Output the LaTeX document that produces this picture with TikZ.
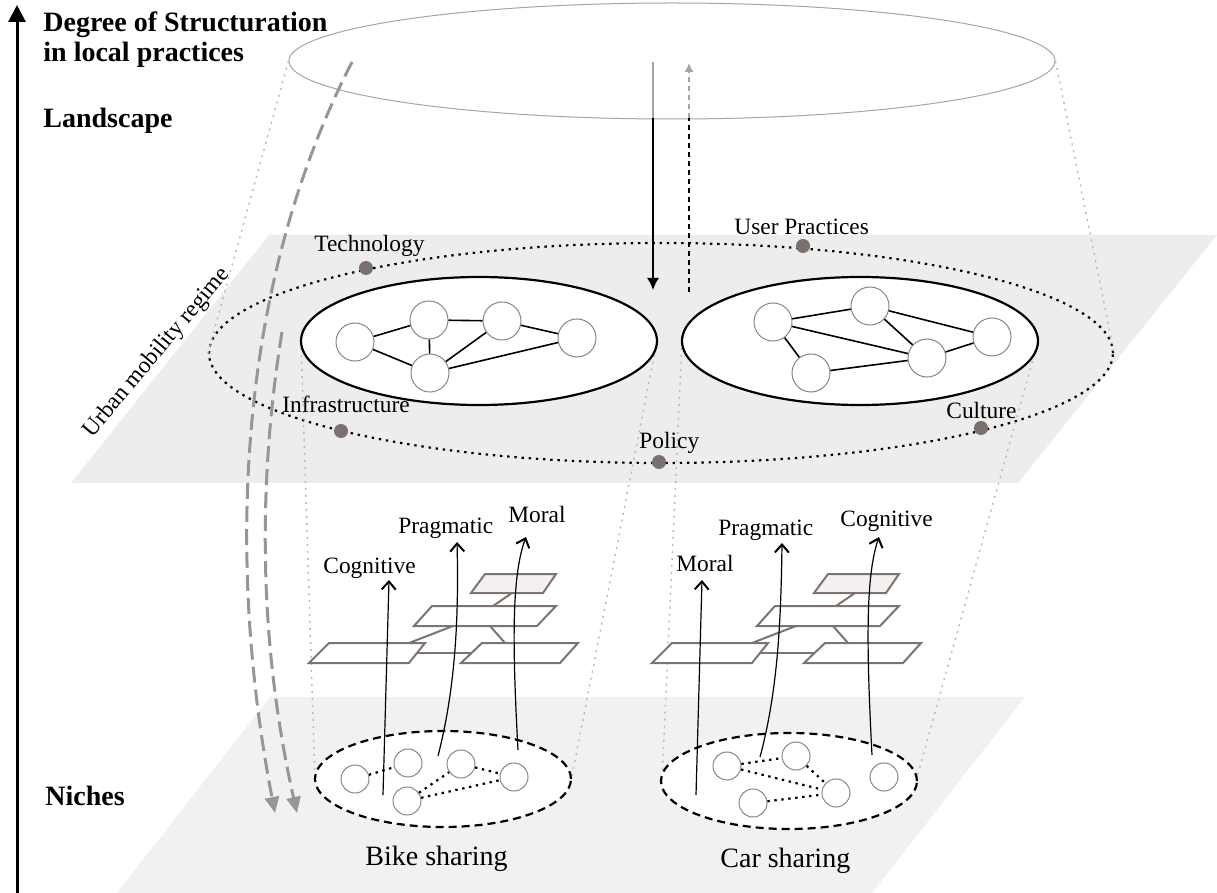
\documentclass[tikz,border=0pt]{standalone}
\usepackage{fontspec}
\setmainfont{Liberation Serif}
\usetikzlibrary{shapes.geometric,arrows.meta,calc}
\definecolor{regimeplane}{RGB}{237,237,237}
\definecolor{nicheplane}{RGB}{242,241,240}
\definecolor{dotfill}{RGB}{122,112,110}
\definecolor{layeredge}{RGB}{124,116,112}
\definecolor{layertop}{RGB}{243,240,239}
\definecolor{conegray}{RGB}{185,185,185}
\definecolor{flowgray}{RGB}{150,150,150}
\definecolor{thingray}{RGB}{165,165,165}
\definecolor{circgray}{RGB}{135,135,135}

\newcommand\drawlayerstack{%
  % links between the layers
  \draw[layerlink] (512,593) -- (493,606);
  \draw[layerlink] (453,626) -- (409,643);
  \draw[layerlink] (490,626) -- (505,643);
  \draw[layerlink] (417,653) -- (471,653);
  % the four layers
  \draw[layer] (329,643) -- (425,643) -- (409,663) -- (309,663) -- cycle;
  \draw[layer] (482,643) -- (578,643) -- (560,663) -- (461,663) -- cycle;
  \draw[layer] (432,606) -- (556,606) -- (537,626) -- (414,626) -- cycle;
  \draw[layer, fill=layertop] (485,574) -- (556,574) -- (543,593) -- (471,593) -- cycle;
}

\begin{document}
\begin{tikzpicture}[x=0.5pt,y=-0.5pt,
  heading/.style={font=\fontsize{14}{16}\selectfont\bfseries, anchor=base west, inner sep=0},
  lbl/.style={font=\fontsize{11.7}{13}\selectfont, anchor=base west, inner sep=0},
  nichelbl/.style={font=\fontsize{14}{16}\selectfont, anchor=base west, inner sep=0},
  landscape/.style={ellipse, draw=thingray, line width=0.5pt, minimum width=383pt, minimum height=58pt, inner sep=0},
  regimering/.style={ellipse, draw, line width=1.1pt, dash pattern=on 1.2pt off 2.4pt, minimum width=452pt, minimum height=110pt, inner sep=0},
  regimeell/.style={ellipse, draw, fill=white, line width=1.1pt, minimum width=178pt, minimum height=64pt, inner sep=0},
  nicheell/.style={ellipse, draw, fill=white, line width=1.1pt, dash pattern=on 4pt off 2.5pt, minimum width=128pt, minimum height=48pt, inner sep=0},
  rnode/.style={circle, draw=circgray, fill=white, line width=0.5pt, minimum size=19pt, inner sep=0},
  nnode/.style={circle, draw=circgray, fill=white, line width=0.5pt, minimum size=14pt, inner sep=0},
  rlink/.style={line width=0.8pt},
  nlink/.style={line width=1.1pt, dash pattern=on 1.2pt off 2.3pt},
  element/.style={circle, fill=dotfill, minimum size=7pt, inner sep=0},
  cone/.style={draw=conegray, line width=0.7pt, dash pattern=on 1pt off 2.5pt},
  layer/.style={draw=layeredge, fill=white, line width=1pt, line join=miter},
  layerlink/.style={draw=layeredge, line width=1pt},
  legit/.style={line width=0.6pt, -{Straight Barb[length=4pt,width=7pt,line width=1pt]}},
  flow/.style={draw=flowgray, line width=1.5pt, dash pattern=on 8pt off 3.5pt, -{Triangle[length=8pt,width=7pt]}, color=flowgray},
]
\useasboundingbox (0,0) rectangle (1217,893);

% planes
\fill[regimeplane] (269,235) -- (1217,235) -- (1018,483) -- (71,483) -- cycle;
\fill[nicheplane] (270,697) -- (1025,697) -- (872,893) -- (117,893) -- cycle;

% main ellipses
\node[landscape] (land) at (672,61) {};
\node[regimering] (ring) at (661,353) {};
\coordinate (lregW) at (301,341);
\coordinate (lregE) at (657,341);
\coordinate (rregW) at (682,341);
\coordinate (rregE) at (1038,341);
\coordinate (lnicW) at (315,781);
\coordinate (lnicE) at (571,781);
\coordinate (rnicW) at (662,781);
\coordinate (rnicE) at (916,781);

% projection lines
\draw[cone] (land.west) -- (ring.west);
\draw[cone] (land.east) -- (ring.east);
\draw[cone] (lregW) -- (lnicW);
\draw[cone] (lregE) -- (lnicE);
\draw[cone] (rregW) -- (rnicW);
\draw[cone] (rregE) -- (rnicE);

% regime elements on the ring
\node[element] (tech) at (366,268) {};
\node[element] (user) at (803,246) {};
\node[element] (infra) at (341,431) {};
\node[element] (policy) at (659,462) {};
\node[element] (culture) at (981,428) {};

% regime networks
\node[regimeell] (lreg) at (479,341) {};
\node[regimeell] (rreg) at (860,341) {};

\node[rnode] (a) at (355,342) {};
\node[rnode] (b) at (429,320) {};
\node[rnode] (c) at (502,321) {};
\node[rnode] (d) at (577,338) {};
\node[rnode] (e) at (430,373) {};
\draw[rlink] (a) -- (b);
\draw[rlink] (b) -- (c);
\draw[rlink] (c) -- (d);
\draw[rlink] (b) -- (e);
\draw[rlink] (a) -- (e);
\draw[rlink] (e) -- (c);
\draw[rlink] (e) -- (d);

\node[rnode] (f) at (773,322) {};
\node[rnode] (g) at (870,306) {};
\node[rnode] (h) at (992,337) {};
\node[rnode] (i) at (927,358) {};
\node[rnode] (j) at (811,373) {};
\draw[rlink] (f) -- (g);
\draw[rlink] (g) -- (h);
\draw[rlink] (g) -- (i);
\draw[rlink] (f) -- (i);
\draw[rlink] (f) -- (j);
\draw[rlink] (j) -- (i);
\draw[rlink] (i) -- (h);

% landscape pressure and feedback
\coordinate (pressTop) at (653,62);
\coordinate (pressEdge) at (653,118);
\coordinate (pressEnd) at (653,290);
\draw[thingray, line width=0.75pt] (pressTop) -- (pressEdge);
\draw[line width=0.75pt, -{Latex[length=6pt,width=6pt]}] (pressEdge) -- (pressEnd);
\coordinate (feedBot) at (689,292);
\coordinate (feedEdge) at (689,118);
\coordinate (feedTop) at (689,63);
\draw[line width=0.75pt, dash pattern=on 2.5pt off 2pt] (feedBot) -- (feedEdge);
\draw[thingray, line width=0.75pt, dash pattern=on 2.5pt off 2pt, -{Latex[length=4.5pt,width=4.5pt]}] (feedEdge) -- (feedTop);

% layer stacks
\drawlayerstack
\begin{scope}[shift={(343,0)}]
  \drawlayerstack
\end{scope}

% niches
\node[nicheell] (lnic) at (443,779) {};
\node[nicheell] (rnic) at (789,781) {};

\node[nnode] (n1) at (355,779) {};
\node[nnode] (n2) at (408,763) {};
\node[nnode] (n3) at (461,764) {};
\node[nnode] (n4) at (514,777) {};
\node[nnode] (n5) at (407,801) {};
\draw[nlink] (n1) -- (n2);
\draw[nlink] (n3) -- (n4);
\draw[nlink] (n5) -- (n3);
\draw[nlink] (n5) -- (n4);

\node[nnode] (m1) at (727,766) {};
\node[nnode] (m2) at (796,756) {};
\node[nnode] (m3) at (836,793) {};
\node[nnode] (m4) at (753,803) {};
\node[nnode] (m5) at (884,777) {};
\draw[nlink] (m1) -- (m2);
\draw[nlink] (m1) -- (m3);
\draw[nlink] (m2) -- (m3);
\draw[nlink] (m4) -- (m3);

% legitimacy arrows, bike sharing
\coordinate (bCogS) at (383,795);
\coordinate (bCogE) at (389,580);
\coordinate (bPraS) at (438,756);
\coordinate (bPraE) at (457,542);
\coordinate (bMorS) at (518,750);
\coordinate (bMorE) at (526,537);
\draw[legit] (bCogS) -- (bCogE);
\draw[legit] (bPraS) .. controls (455,690) and (459,620) .. (bPraE);
\draw[legit] (bMorS) .. controls (512,640) and (512,575) .. (bMorE);

% legitimacy arrows, car sharing
\coordinate (cMorS) at (696,795);
\coordinate (cMorE) at (702,580);
\coordinate (cPraS) at (760,757);
\coordinate (cPraE) at (782,543);
\coordinate (cCogS) at (872,755);
\coordinate (cCogE) at (879,537);
\draw[legit] (cMorS) -- (cMorE);
\draw[legit] (cPraS) .. controls (778,690) and (781,620) .. (cPraE);
\draw[legit] (cCogS) .. controls (866,640) and (866,575) .. (cCogE);

% niche feedback arrows from the landscape
\coordinate (flowAs) at (352,62);
\coordinate (flowAe) at (275,813);
\coordinate (flowBs) at (282,332);
\coordinate (flowBe) at (297,813);
\draw[flow] (flowAs) .. controls (230,300) and (230,580) .. (flowAe);
\draw[flow] (flowBs) .. controls (258,480) and (258,640) .. (flowBe);

% vertical axis
\coordinate (axisBot) at (17,893);
\coordinate (axisTop) at (17,5);
\draw[line width=1.5pt, -{Triangle[length=8.5pt,width=8.5pt]}] (axisBot) -- (axisTop);

% texts
\node[heading] (deg1) at (43,32) {Degree of Structuration};
\node[heading] (deg2) at (43,62) {in local practices};
\node[heading] (lands) at (43,128) {Landscape};
\node[heading] (nich) at (45,805) {Niches};

\node[font=\fontsize{11.7}{13}\selectfont, rotate=50, inner sep=0] (umr) at (157,353) {Urban mobility regime};

\node[lbl] (tTech) at (314,252) {Technology};
\node[lbl] (tUser) at (734,235) {User Practices};
\node[lbl] (tInfra) at (282,413) {Infrastructure};
\node[lbl] (tPol) at (639,449) {Policy};
\node[lbl] (tCul) at (946,419) {Culture};

\node[lbl] (lCog) at (323,574) {Cognitive};
\node[lbl] (lPra) at (398,533) {Pragmatic};
\node[lbl] (lMor) at (508,523) {Moral};
\node[lbl] (rMor) at (676,571) {Moral};
\node[lbl] (rPra) at (718,536) {Pragmatic};
\node[lbl] (rCog) at (840,526) {Cognitive};

\node[nichelbl] (bike) at (365,865) {Bike sharing};
\node[nichelbl] (car) at (720,867) {Car sharing};
\end{tikzpicture}
\end{document}
